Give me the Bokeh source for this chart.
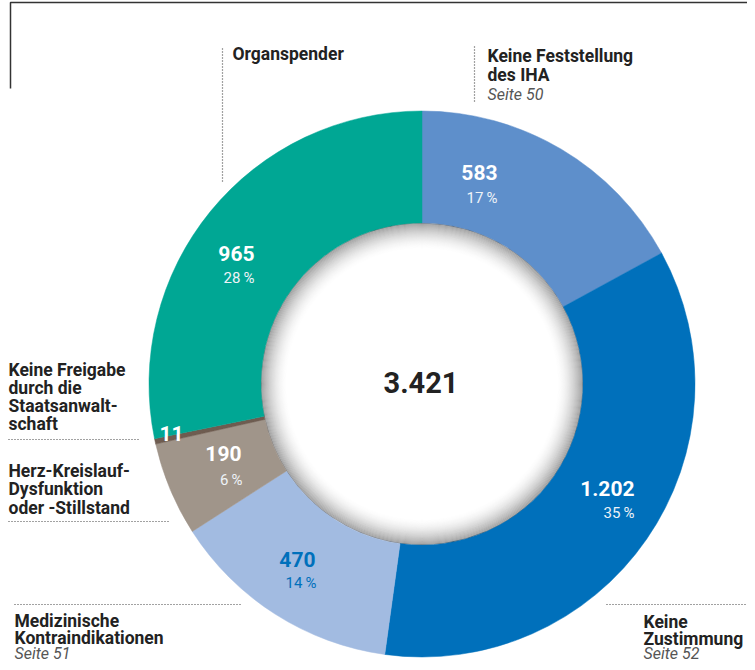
import numpy as np
from bokeh.plotting import figure
from bokeh.models import Range1d, ColumnDataSource
from bokeh.core.properties import value
from bokeh.embed import file_html
from bokeh.resources import INLINE

# ---- data ----
categories = ["Keine Feststellung des IHA", "Keine Zustimmung", "Medizinische Kontraindikationen",
              "Herz-Kreislauf-Dysfunktion oder -Stillstand", "Keine Freigabe durch die Staatsanwaltschaft",
              "Organspender"]
values = [583, 1202, 470, 190, 11, 965]
colors = ["#5e8fcb", "#0070bb", "#a2bbe1", "#a0958a", "#6e5c50", "#00a794"]
value_labels = ["583", "1.202", "470", "190", "11", "965"]
pct_labels = ["17\u2009%", "35\u2009%", "14\u2009%", "6\u2009%", "", "28\u2009%"]
total_label = "3.421"

W, H = 747, 662
def Y(v):
    return 670 - v

p = figure(width=W, height=H, x_range=Range1d(0, 747), y_range=Range1d(8, 670),
           output_backend="svg", toolbar_location=None, min_border=0)
p.axis.visible = False
p.grid.visible = False
p.outline_line_color = None
p.background_fill_color = "white"

cx, cy = 421.5, Y(383.5)
r_out, r_in = 273, 161

vals = np.array(values, dtype=float)
cum = np.cumsum(vals) / vals.sum()
cum0 = np.concatenate([[0], cum[:-1]])
start = np.pi / 2 - 2 * np.pi * cum
end = np.pi / 2 - 2 * np.pi * cum0
src = ColumnDataSource(dict(start=start, end=end, color=colors))
p.annular_wedge(x=cx, y=cy, inner_radius=r_in, outer_radius=r_out, start_angle="start",
                end_angle="end", direction="anticlock", fill_color="color", line_color="color",
                line_width=0.5, source=src)

# inner shadow
N = 28
for i in range(N):
    t = i / N
    a = 0.38 * (1 - t) ** 2
    p.annulus(x=cx, y=cy, inner_radius=r_in - (i + 1), outer_radius=r_in - i,
              fill_color="black", fill_alpha=a, line_color=None)

# value labels (right aligned)
num_pos = [(497, 172), (634, 488), (315, 559), (241, 453), (183, 433), (254, 253)]
pct_pos = [(497, 197), (634, 512), (316, 582), (242, 479), (0, 0), (254, 277)]
num_colors = ["white", "white", "#0070bb", "white", "white", "white"]
p.text(x=[q[0] for q in num_pos], y=[Y(q[1]) for q in num_pos], text=value_labels,
       text_align="right", text_baseline="middle", text_color=num_colors,
       text_font=value("Roboto"), text_font_style="bold", text_font_size="21px")
pi_idx = [i for i, s in enumerate(pct_labels) if s]
p.text(x=[pct_pos[i][0] for i in pi_idx], y=[Y(pct_pos[i][1]) for i in pi_idx],
       text=[pct_labels[i] for i in pi_idx], text_align="right", text_baseline="middle",
       text_color=[("#0070bb" if num_colors[i] != "white" else "#eef3f8") for i in pi_idx],
       text_font=value("Roboto"), text_font_style="normal", text_font_size="15px")

# total in center
p.text(x=[cx - 1], y=[Y(382)], text=[total_label], text_align="center", text_baseline="middle",
       text_color="#222222", text_font=value("Roboto"), text_font_style="bold", text_font_size="29px")

# category labels
def label(x, ys, lines, styles):
    for yy, ln, st in zip(ys, lines, styles):
        p.text(x=[x], y=[Y(yy)], text=[ln], text_align="left", text_baseline="middle",
               text_color="#222222" if st == "bold" else "#555555",
               text_font=value("Roboto"), text_font_style=st,
               text_font_size="17.5px" if st == "bold" else "16px")

label(232, [53], ["Organspender"], ["bold"])
label(487, [55, 74, 94], ["Keine Feststellung", "des IHA", "Seite 50"], ["bold", "bold", "italic"])
label(8, [369, 387, 405, 423], ["Keine Freigabe", "durch die", "Staatsanwalt-", "schaft"], ["bold"] * 4)
label(8, [470, 488.5, 507], ["Herz-Kreislauf-", "Dysfunktion", "oder -Stillstand"], ["bold"] * 3)
label(14, [620, 637, 653], ["Medizinische", "Kontraindikationen", "Seite 51"], ["bold", "bold", "italic"])
label(643, [621, 638, 653], ["Keine", "Zustimmung", "Seite 52"], ["bold", "bold", "italic"])

# dotted leader lines
dot = dict(line_color="#444444", line_width=1.2, line_dash="1 2")
p.line([222, 222], [Y(48), Y(182)], **dot)
p.line([474, 474], [Y(46), Y(103)], **dot)
p.line([8, 140], [Y(439), Y(439)], **dot)
p.line([8, 170], [Y(521), Y(521)], **dot)
p.line([14, 242], [Y(604), Y(604)], **dot)
p.line([606, 747], [Y(604), Y(604)], **dot)

# frame corner line
p.line([10, 10, 747], [Y(88), Y(2), Y(2)], line_color="#333333", line_width=1.5)

open("out.html", "w").write(file_html(p, INLINE))
